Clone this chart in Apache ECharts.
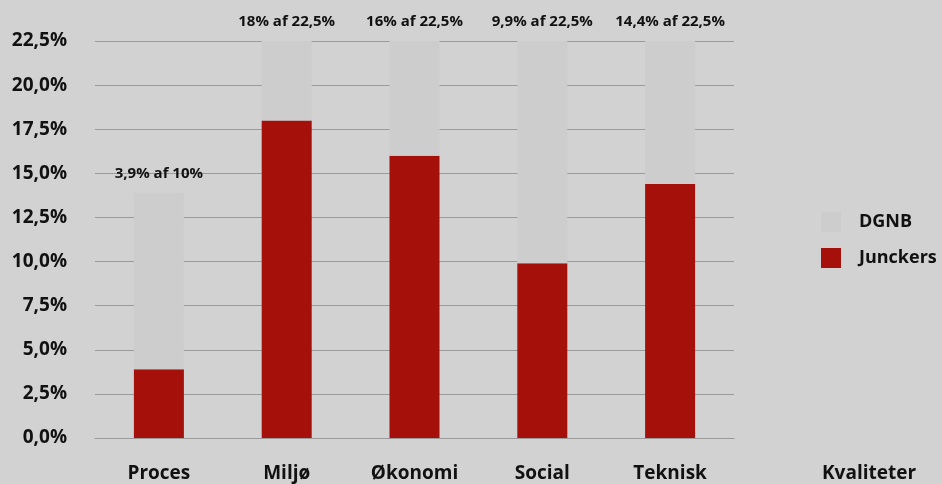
<!doctype html>
<html>
    <head>
        <meta charset="utf-8">
        <title>Kvaliteter</title>
        <style>
            html, body { margin: 0; padding: 0; background: #d2d2d2; }
            #main { width: 942px; height: 484px; }
        </style>
    </head>
    <body>
        <div id="main"></div>
        <script src="https://cdn.jsdelivr.net/npm/echarts@6/dist/echarts.min.js"></script>
        <script>
            var categories = ['Proces', 'Miljø', 'Økonomi', 'Social', 'Teknisk'];
            var junckers = [3.9, 18, 16, 9.9, 14.4];
            var dgnb = [10, 22.5, 22.5, 22.5, 22.5];
            var barLabels = ['3,9% af 10%', '18% af 22,5%', '16% af 22,5%', '9,9% af 22,5%', '14,4% af 22,5%'];

            var font = '"Open Sans", "Noto Sans", sans-serif';
            var chart = echarts.init(document.getElementById('main'), null, {
                devicePixelRatio: 1
            });

            chart.setOption({
                backgroundColor: '#d2d2d2',
                animation: false,
                grid: {
                    left: 95,
                    right: 208,
                    top: 41,
                    bottom: 46
                },
                legend: {
                    orient: 'vertical',
                    left: 821,
                    top: 212,
                    padding: 0,
                    itemWidth: 20,
                    itemHeight: 20,
                    itemGap: 16,
                    icon: 'rect',
                    data: ['DGNB', 'Junckers'],
                    textStyle: {
                        fontFamily: font,
                        fontWeight: 'bold',
                        fontSize: 18,
                        color: '#111',
                        padding: [0, 0, 0, 13]
                    }
                },
                xAxis: {
                    type: 'category',
                    data: categories,
                    name: 'Kvaliteter',
                    nameLocation: 'end',
                    nameGap: 88,
                    nameTextStyle: {
                        fontFamily: font,
                        fontWeight: 'bold',
                        fontSize: 19,
                        color: '#111',
                        align: 'left',
                        verticalAlign: 'top',
                        padding: [26, 0, 0, 0]
                    },
                    axisTick: { show: false },
                    axisLine: { lineStyle: { color: '#9a9a9a', width: 1 } },
                    axisLabel: {
                        margin: 26,
                        fontFamily: font,
                        fontWeight: 'bold',
                        fontSize: 19,
                        color: '#111'
                    }
                },
                yAxis: {
                    type: 'value',
                    min: 0,
                    max: 22.5,
                    interval: 2.5,
                    axisLine: { show: false },
                    axisTick: { show: false },
                    splitLine: { lineStyle: { color: '#9a9a9a', width: 1 } },
                    axisLabel: {
                        margin: 28,
                        fontFamily: font,
                        fontWeight: 'bold',
                        fontSize: 19,
                        color: '#111',
                        formatter: function (v) {
                            return v.toFixed(1).replace('.', ',') + '%';
                        }
                    }
                },
                series: [{
                    name: 'Junckers',
                    type: 'bar',
                    stack: 'total',
                    barWidth: 50,
                    itemStyle: { color: '#a5110a' },
                    data: junckers
                }, {
                    name: 'DGNB',
                    type: 'bar',
                    stack: 'total',
                    barWidth: 50,
                    itemStyle: { color: '#cdcdcd' },
                    label: {
                        show: true,
                        position: 'top',
                        distance: 12,
                        fontFamily: font,
                        fontWeight: 'bold',
                        fontSize: 15,
                        color: '#111',
                        formatter: function (p) {
                            return barLabels[p.dataIndex];
                        }
                    },
                    data: dgnb
                }]
            });

            window.onresize = chart.resize;
        </script>
    </body>
</html>
